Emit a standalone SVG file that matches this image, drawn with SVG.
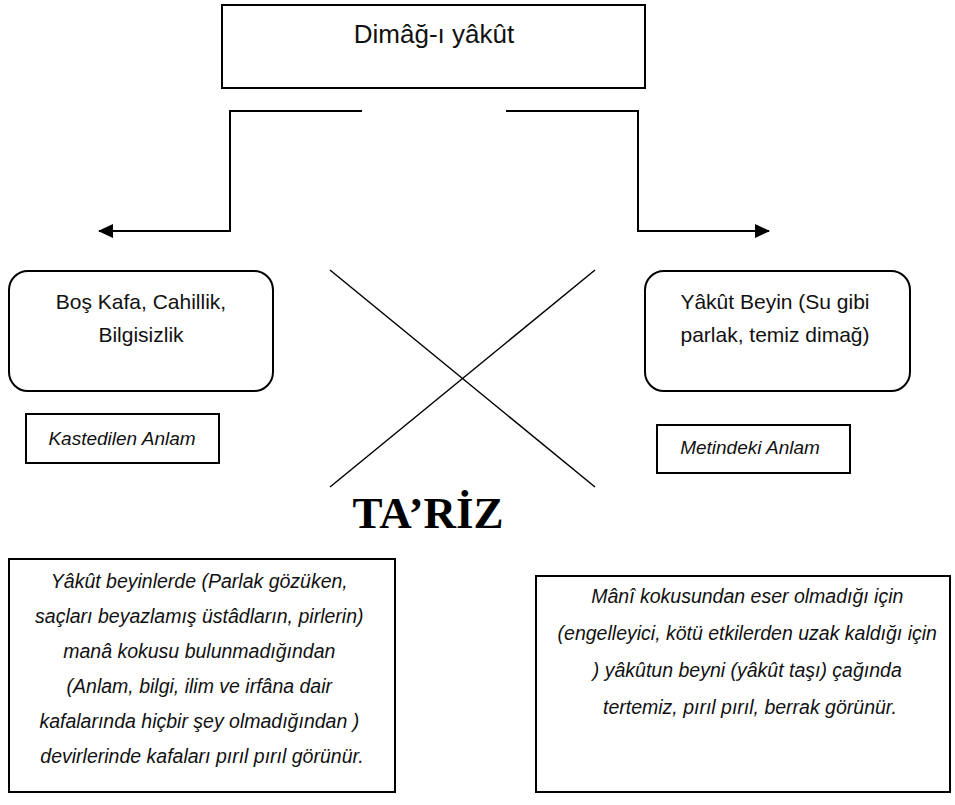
<svg xmlns="http://www.w3.org/2000/svg" width="955" height="805" viewBox="0 0 955 805">
<defs>
<style>
.box{fill:#fff;stroke:#000;stroke-width:2}
.ln{fill:none;stroke:#000;stroke-width:2}
.t{font-family:"Liberation Sans","Open Sans",sans-serif;fill:#111;text-anchor:middle}
.i{font-style:italic}
.b{font-family:"Liberation Serif","Times New Roman",serif;font-weight:bold;fill:#000;text-anchor:middle}
</style>
<marker id="ah" viewBox="0 0 15 14" refX="14" refY="7" markerWidth="15" markerHeight="14" markerUnits="userSpaceOnUse" orient="auto">
<path d="M0,0 L15,7 L0,14 Z" fill="#000"/>
</marker>
</defs>
<rect width="955" height="805" fill="#fff"/>
<g id="connectors">
<polyline class="ln" points="362,111 230,111 230,231 99,231" marker-end="url(#ah)"/>
<polyline class="ln" points="506,111 638,111 638,231 769,231" marker-end="url(#ah)"/>
<line x1="330" y1="270" x2="595" y2="487" stroke="#000" stroke-width="1.5"/>
<line x1="595" y1="270" x2="330" y2="487" stroke="#000" stroke-width="1.5"/>
</g>
<g id="top">
<rect class="box" x="222" y="5" width="423" height="83"/>
<text class="t" x="434" y="43" font-size="26">Dimâğ-ı yâkût</text>
</g>
<g id="left">
<rect class="box" x="9" y="271" width="264" height="120" rx="19"/>
<text class="t" x="141" y="309" font-size="21">Boş Kafa, Cahillik,</text>
<text class="t" x="141" y="342" font-size="21">Bilgisizlik</text>
</g>
<g id="right">
<rect class="box" x="645" y="271" width="265" height="120" rx="19"/>
<text class="t" x="775" y="309" font-size="21">Yâkût Beyin (Su gibi</text>
<text class="t" x="775" y="342" font-size="21">parlak, temiz dimağ)</text>
</g>
<g id="kastedilen">
<rect class="box" x="26" y="414" width="193" height="49"/>
<text class="t i" x="122" y="445" font-size="19">Kastedilen Anlam</text>
</g>
<g id="metindeki">
<rect class="box" x="657" y="425" width="193" height="48"/>
<text class="t i" x="750" y="454" font-size="19">Metindeki Anlam</text>
</g>
<g id="tariz">
<text class="b" x="428" y="528" font-size="45">TA’RİZ</text>
</g>
<g id="bottom-left">
<rect class="box" x="9" y="559" width="386" height="233"/>
<text class="t i" font-size="19.5">
<tspan x="202" y="588">Yâkût beyinlerde (Parlak gözüken,</tspan>
<tspan x="202" y="623">saçları beyazlamış üstâdların, pirlerin)</tspan>
<tspan x="202" y="658">manâ kokusu bulunmadığından</tspan>
<tspan x="202" y="693">(Anlam, bilgi, ilim ve irfâna dair</tspan>
<tspan x="202" y="728">kafalarında hiçbir şey olmadığından )</tspan>
<tspan x="202" y="763">devirlerinde kafaları pırıl pırıl görünür.</tspan>
</text>
</g>
<g id="bottom-right">
<rect class="box" x="536" y="576" width="414" height="216"/>
<text class="t i" font-size="19.5">
<tspan x="750" y="603">Mânî kokusundan eser olmadığı için</tspan>
<tspan x="750" y="640">(engelleyici, kötü etkilerden uzak kaldığı için</tspan>
<tspan x="750" y="677">) yâkûtun beyni (yâkût taşı)  çağında</tspan>
<tspan x="750" y="714">tertemiz, pırıl pırıl, berrak görünür.</tspan>
</text>
</g>
</svg>
